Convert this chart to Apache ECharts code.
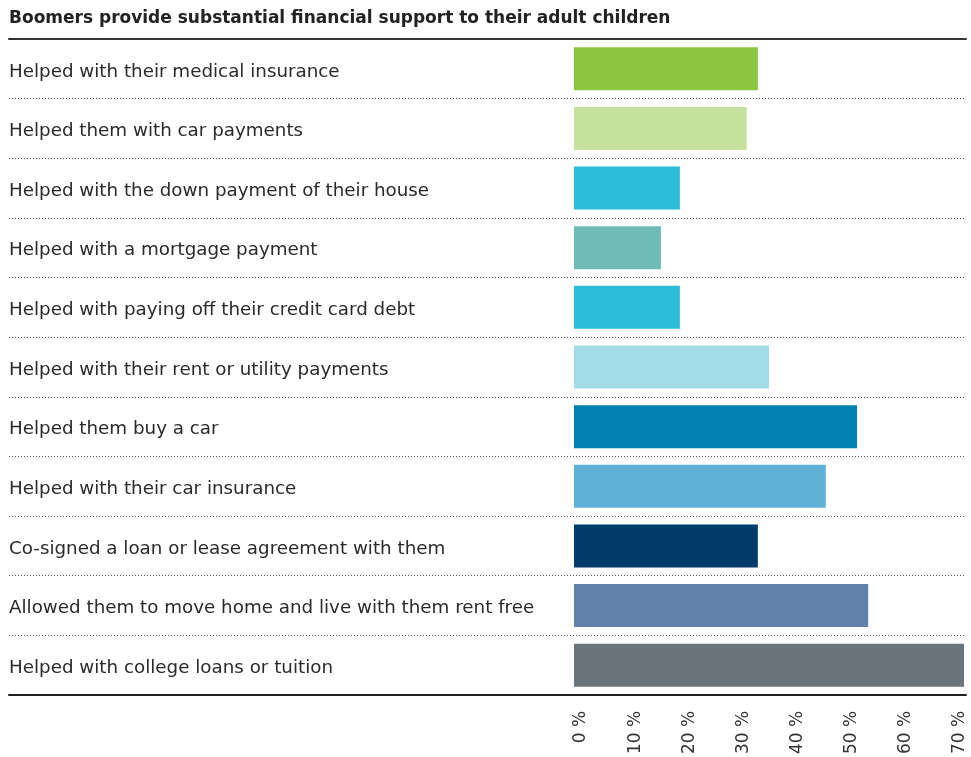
<!DOCTYPE html>
<html>
<head>
<meta charset="utf-8">
<title>Boomers provide substantial financial support to their adult children</title>
<script src="https://cdn.jsdelivr.net/npm/echarts@6/dist/echarts.min.js"></script>
<style>
  html, body { margin: 0; padding: 0; background: #ffffff; }
  #chart { width: 971px; height: 757px; }
</style>
</head>
<body>
<div id="chart"></div>
<script>
// Kinds of support given to adult children (top to bottom)
const categories = [
  'Helped with their medical insurance',
  'Helped them with car payments',
  'Helped with the down payment of their house',
  'Helped with a mortgage payment',
  'Helped with paying off their credit card debt',
  'Helped with their rent or utility payments',
  'Helped them buy a car',
  'Helped with their car insurance',
  'Co-signed a loan or lease agreement with them',
  'Allowed them to move home and live with them rent free',
  'Helped with college loans or tuition'
];

// Share of boomers providing each kind of support (%)
const shares = [33, 31, 19, 15.6, 19, 35, 50.8, 45.2, 33, 52.8, 70];

// Axis ticks (%)
const tickMin = 0;
const tickMax = 70;
const tickStep = 10;

// Bar fill per row
const barColors = [
  '#8cc63f', '#c6e09d', '#2cbdd8', '#6fbcb6', '#2cbdd8', '#a3dbe9',
  '#007fb1', '#60b1d6', '#003c6a', '#6282ab', '#6a757b'
];

const FONT = '"DejaVu Sans", Verdana, sans-serif';
const TOP = 39;
const BOTTOM = 62;

const chart = echarts.init(document.getElementById('chart'), null, { renderer: 'canvas' });

chart.setOption({
  animation: false,
  backgroundColor: '#ffffff',
  title: {
    text: 'Boomers provide substantial financial support to their adult children',
    left: 9,
    top: 10,
    padding: 0,
    textStyle: { fontFamily: FONT, fontSize: 17, fontWeight: 'bold', color: '#222222' }
  },
  grid: [
    // full-width frame: row labels, dotted row separators, rules
    { left: 9, right: 5, top: TOP, bottom: BOTTOM, containLabel: false },
    // bar area
    { left: 574, right: 7, top: TOP, bottom: BOTTOM, containLabel: false },
    // percentage scale printed under the bars
    { left: 581, right: 11, top: TOP, bottom: BOTTOM, containLabel: false }
  ],
  xAxis: [
    {
      gridIndex: 0, type: 'value', position: 'bottom', min: 0, max: 1,
      axisLine: { show: true, lineStyle: { color: '#222222', width: 2 } },
      axisTick: { show: false }, axisLabel: { show: false }, splitLine: { show: false }
    },
    {
      gridIndex: 0, type: 'value', position: 'top', min: 0, max: 1,
      axisLine: { show: true, lineStyle: { color: '#333333', width: 2 } },
      axisTick: { show: false }, axisLabel: { show: false }, splitLine: { show: false }
    },
    {
      gridIndex: 1, type: 'value', position: 'bottom',
      min: tickMin, max: tickMax, interval: tickStep,
      axisLine: { show: false }, axisTick: { show: false }, splitLine: { show: false },
      axisLabel: { show: false }
    },
    {
      gridIndex: 2, type: 'value', position: 'bottom',
      min: tickMin, max: tickMax, interval: tickStep,
      axisLine: { show: false }, axisTick: { show: false }, splitLine: { show: false },
      axisLabel: {
        rotate: 90, margin: 20,
        formatter: '{value} %',
        fontFamily: FONT, fontSize: 17, color: '#333333'
      }
    }
  ],
  yAxis: [
    {
      gridIndex: 0, type: 'category', data: categories, inverse: true,
      axisLine: { show: false }, axisTick: { show: false },
      axisLabel: {
        inside: true, margin: 0, align: 'left',
        verticalAlign: 'top', lineHeight: 6,
        fontFamily: FONT, fontSize: 18.3, color: '#2a2a2a'
      },
      splitLine: {
        show: true,
        lineStyle: { color: '#555555', width: 1, type: [1, 2] }
      }
    },
    {
      gridIndex: 1, type: 'category', data: categories, inverse: true, show: false
    },
    {
      gridIndex: 2, type: 'category', data: categories, inverse: true, show: false
    }
  ],
  series: [
    {
      type: 'bar',
      xAxisIndex: 2,
      yAxisIndex: 1,
      barWidth: 43,
      data: shares.map((v, i) => ({ value: v, itemStyle: { color: barColors[i] } })),
      label: { show: false },
      silent: true
    }
  ]
});
</script>
</body>
</html>
